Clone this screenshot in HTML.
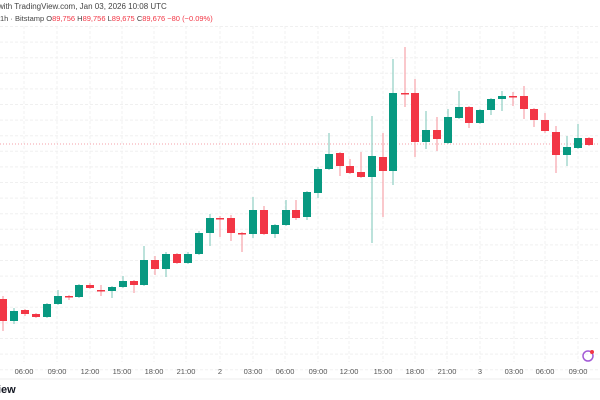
<!DOCTYPE html>
<html><head><meta charset="utf-8"><style>
body{margin:0;width:600px;height:400px;background:#fff;overflow:hidden;font-family:"Liberation Sans",sans-serif}
</style></head><body>
<svg id="s" width="600" height="400" xmlns="http://www.w3.org/2000/svg" style="position:absolute;left:0;top:0"></svg>
<script>
var s=document.getElementById('s'),h='';
for(var y=26.5;y<372;y+=15.6)h+='<line x1="0" x2="600" y1="'+y.toFixed(1)+'" y2="'+y.toFixed(1)+'" stroke="#f0f0f0" stroke-dasharray="3,2"/>';
var lx=[24,57,90,122,154,186,220,253,285,318,349,383,415,447,480,514,545,578];
var lt=["06:00","09:00","12:00","15:00","18:00","21:00","2","03:00","06:00","09:00","12:00","15:00","18:00","21:00","3","03:00","06:00","09:00"];
lx.forEach(function(x){h+='<line x1="'+x+'" x2="'+x+'" y1="26" y2="362" stroke="#f0f0f0" stroke-dasharray="3,2"/>';});
h+='<line x1="0" x2="600" y1="144" y2="144" stroke="#f5a0a8" stroke-dasharray="1,2"/>';
// [x, bodyTop, bodyBot, high, low, g/r]
var d=[[3,299,321,296,331,'r'],[14,311,321,308,324,'g'],[25,310,314,309,316,'r'],[36,314,317,313,318,'r'],[47,304,317,303,318,'g'],
[58,296,304,290,305,'g'],[69,296,297,295,300,'r'],[79,285,297,284,298,'g'],[90,285,288,283,289,'r'],[101,290,291,285,296,'r'],
[112,287,291,286,298,'g'],[123,281,287,276,288,'g'],[134,281,285,280,293,'r'],[144,260,285,246,286,'g'],[155,260,269,256,275,'r'],
[166,254,269,252,277,'g'],[177,254,263,253,264,'r'],[188,254,263,252,264,'g'],[199,233,254,231,255,'g'],[210,218,233,214,246,'g'],
[220,218,219,216,237,'r'],[231,218,233,215,241,'r'],[242,233,234,232,252,'r'],[253,210,234,197,238,'g'],[264,210,234,206,235,'r'],
[275,225,234,224,238,'g'],[286,210,225,200,226,'g'],[296,210,218,200,220,'r'],[307,192,217,191,220,'g'],[318,169,193,167,198,'g'],
[329,154,169,133,170,'g'],[340,153,166,152,176,'r'],[350,166,173,159,174,'r'],[361,172,177,152,178,'r'],[372,156,177,116,243,'g'],
[383,157,171,133,217,'r'],[393,93,171,59,185,'g'],[405,93,94,47,107,'r'],[415,93,142,79,157,'r'],[426,130,142,111,149,'g'],
[437,130,139,117,151,'r'],[448,117,143,109,144,'g'],[459,107,118,91,119,'g'],[469,107,123,106,128,'r'],[480,110,123,109,124,'g'],
[491,99,110,98,115,'g'],[502,96,99,91,111,'g'],[513,96,97,92,106,'r'],[524,96,109,86,119,'r'],[534,109,120,108,127,'r'],
[545,120,131,113,133,'r'],[556,132,155,126,173,'r'],[567,147,155,136,166,'g'],[578,138,148,124,149,'g'],[589,138,145,137,146,'r']];
d.forEach(function(c){var col=c[5]=='g'?'#089981':'#f23645',wc=c[5]=='g'?'#8fcfc3':'#f7a3ab';
h+='<line x1="'+c[0]+'" x2="'+c[0]+'" y1="'+c[3]+'" y2="'+c[4]+'" stroke="'+wc+'" stroke-width="1.2"/>';
h+='<rect x="'+(c[0]-4)+'" y="'+c[1]+'" width="8" height="'+Math.max(1.5,c[2]-c[1])+'" fill="'+col+'"/>';});
lx.forEach(function(x,i){h+='<text x="'+x+'" y="374" font-size="7.5" fill="#555" text-anchor="middle">'+lt[i]+'</text>';});
h+='<line x1="0" x2="600" y1="379" y2="379" stroke="#eee"/>';
h+='<text x="-2" y="393" font-size="11" font-weight="bold" fill="#131722">iew</text>';
h+='<circle cx="588" cy="356" r="5" fill="none" stroke="#a35bd6" stroke-width="1.5"/><circle cx="592" cy="352" r="2" fill="#f23645"/>';
h+='<text x="-2" y="9" font-size="8" fill="#444">with TradingView.com, Jan 03, 2026 10:08 UTC</text>';
h+='<text x="0" y="21" font-size="7.5" fill="#444">1h · Bitstamp  O<tspan fill="#f23645">89,756</tspan> H<tspan fill="#f23645">89,756</tspan> L<tspan fill="#f23645">89,675</tspan> C<tspan fill="#f23645">89,676  −80 (−0.09%)</tspan></text>';
s.innerHTML=h;
</script>
</body></html>
